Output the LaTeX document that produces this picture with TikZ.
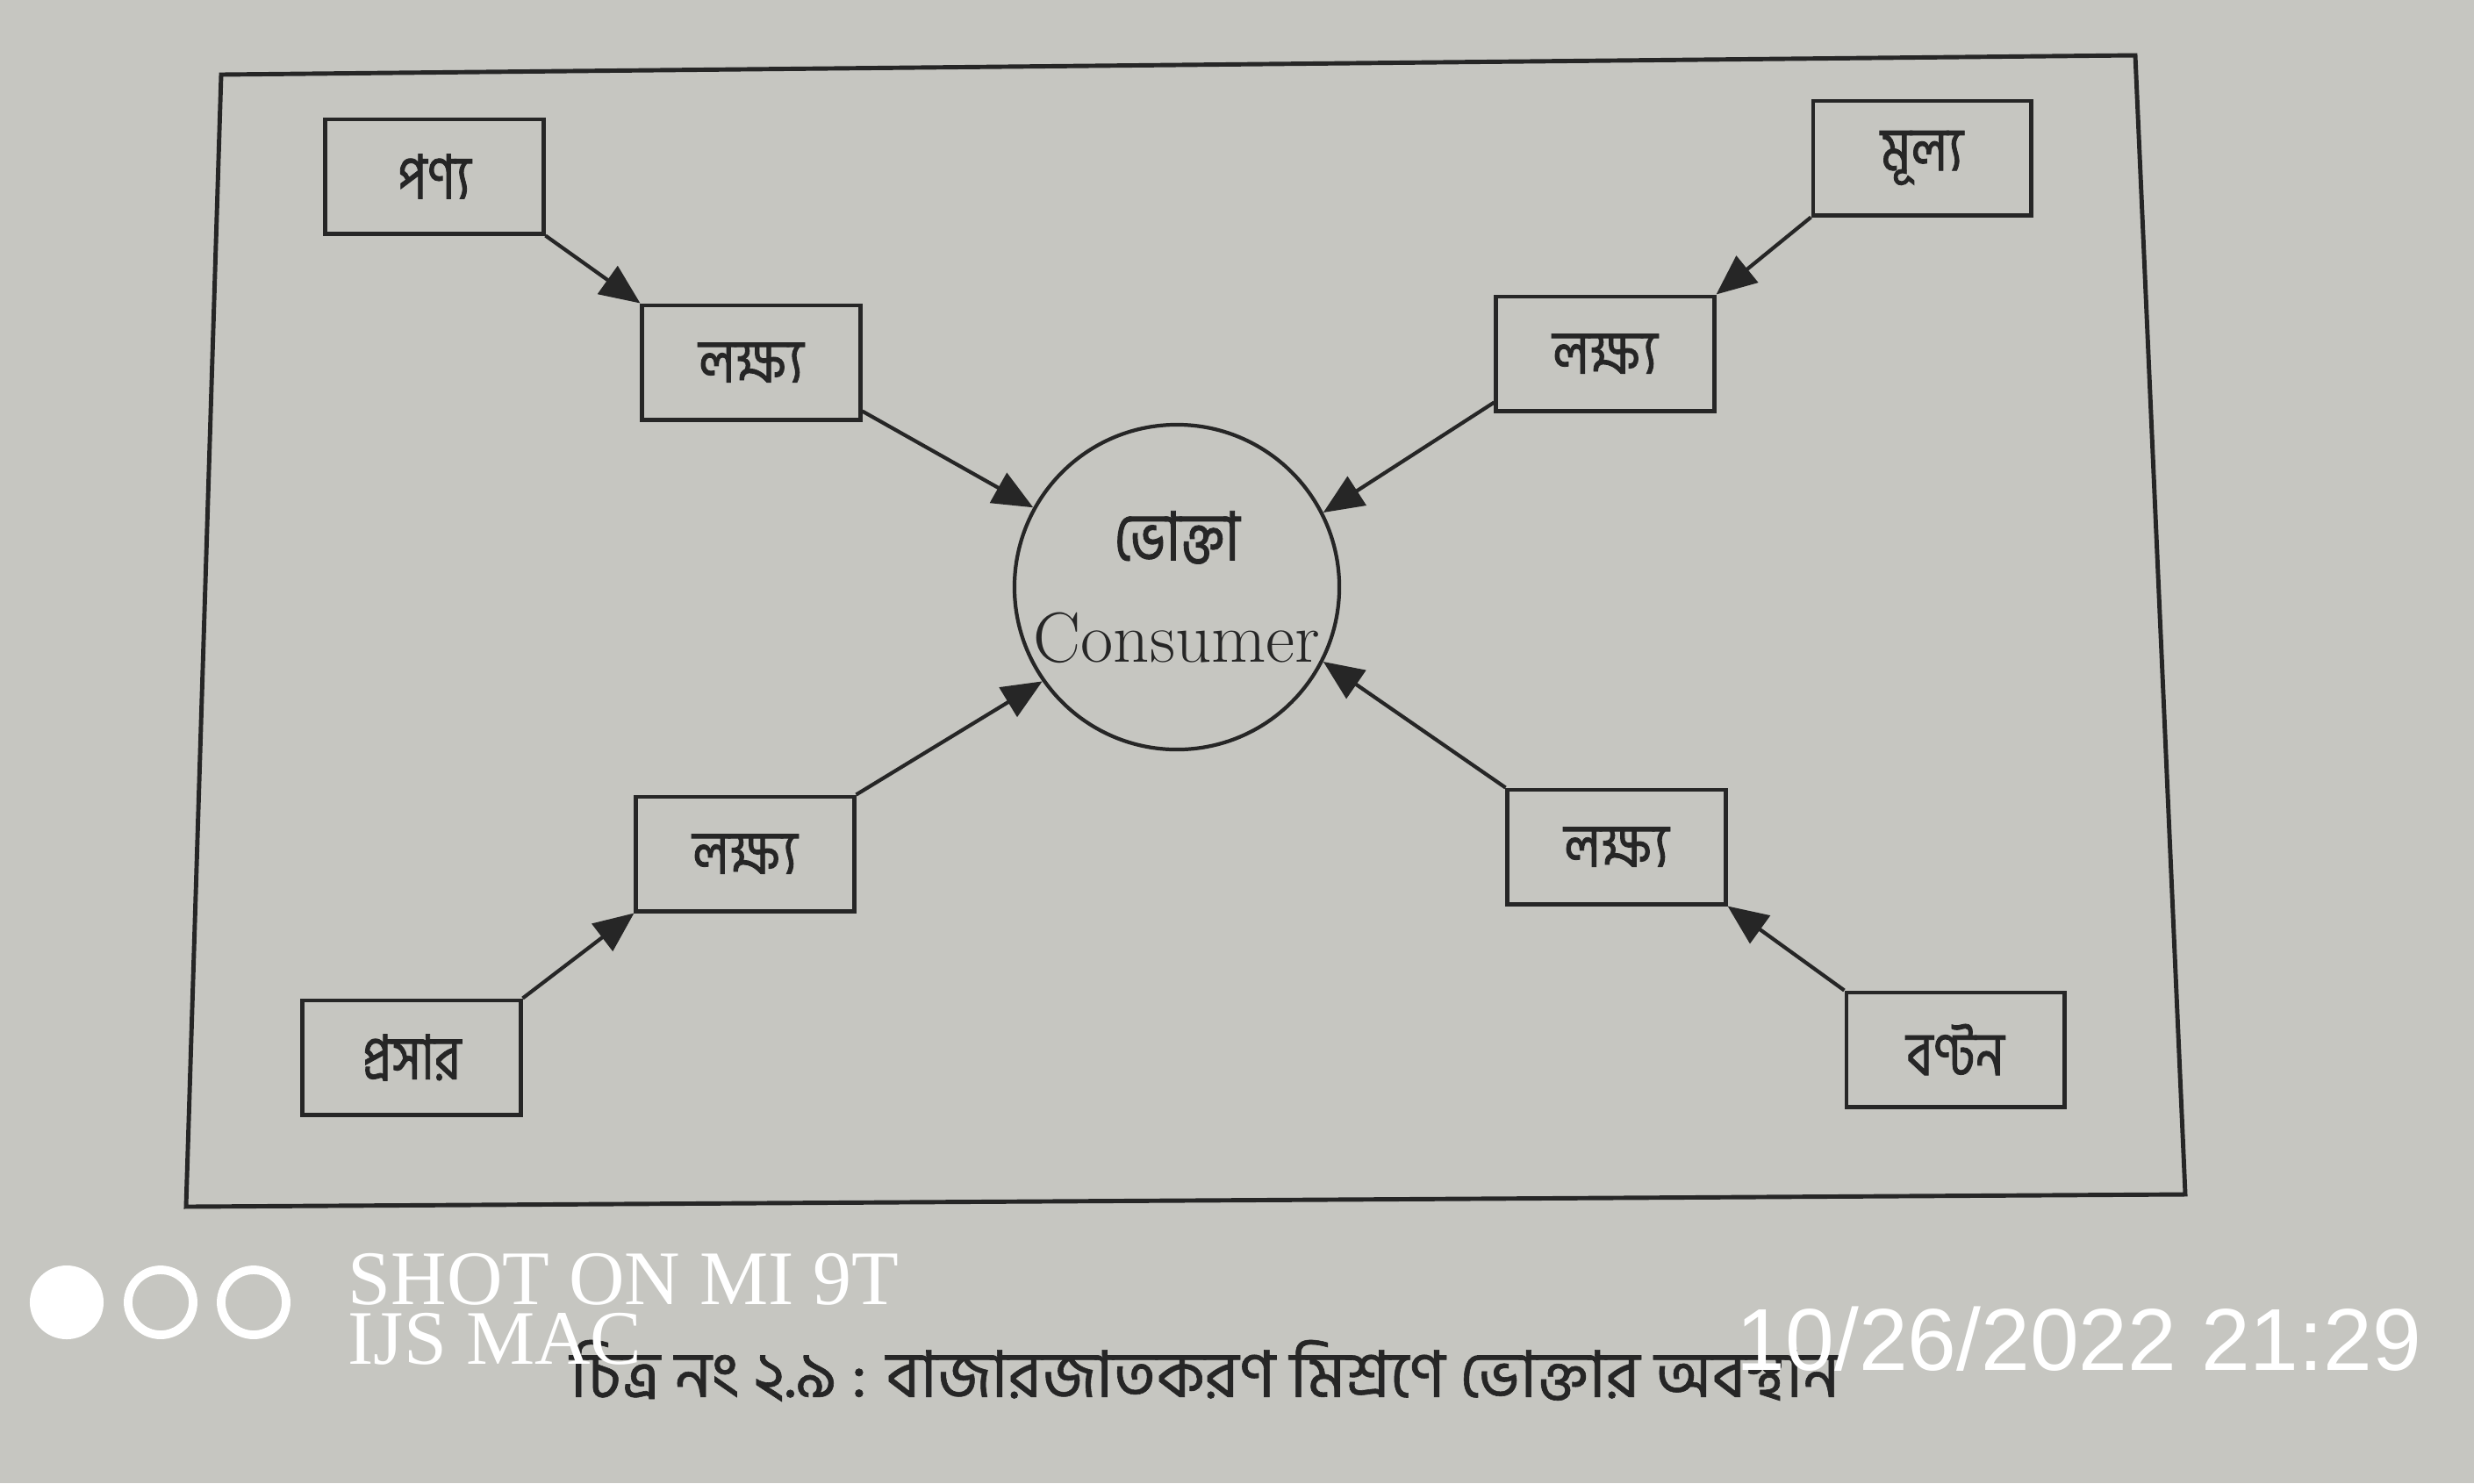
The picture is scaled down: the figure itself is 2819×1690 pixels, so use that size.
\documentclass[tikz,border=0pt]{standalone}
\usepackage{fontspec}
\newfontfamily\bn[Script=Bengali]{Hind Siliguri}
\newfontfamily\bnbox[Script=Bengali,FakeStretch=0.82,FakeBold=1.2]{Hind Siliguri}
\newfontfamily\bncap[Script=Bengali,FakeBold=0.8]{Hind Siliguri}
\newfontfamily\wmserif{Liberation Serif}
\newfontfamily\wmsans{Liberation Sans}
\usetikzlibrary{arrows.meta,calc}
\definecolor{paper}{RGB}{198,198,193}
\definecolor{ink}{RGB}{38,38,38}
\tikzset{
  box/.style={draw=ink,line width=1.4pt,minimum width=2.48cm,minimum height=1.3cm,inner sep=0pt,
    font=\bnbox\fontsize{20}{24}\selectfont,text=ink},
  consumer/.style={circle,draw=ink,line width=1.2pt,minimum size=3.6cm,inner sep=0pt,align=center,
    font=\fontsize{23}{29}\selectfont,text=ink},
  conn/.style={draw=ink,line width=1.2pt,-{Triangle[length=13pt,width=11pt]}},
  wm/.style={text=white,inner sep=0pt,anchor=west},
}
\begin{document}
\begin{tikzpicture}[x=0.01cm,y=-0.01cm]
\fill[paper] (0,0) rectangle (2819,1690);
\useasboundingbox (0,0) rectangle (2819,1690);
% outer frame (photographed, slightly skewed)
\draw[ink,line width=1.4pt] (252,85) -- (2433,63) -- (2490,1361) -- (212,1375) -- cycle;
% nodes
\node[box] (p)  at (495,201)  {পণ্য};
\node[box] (l1) at (856,413)  {লক্ষ্য};
\node[box] (m)  at (2190,180) {মূল্য};
\node[box] (l2) at (1829,403) {লক্ষ্য};
\node[consumer] (c) at (1341,669) {{\bnbox\fontsize{22}{26}\selectfont ভোক্তা}\\[4pt]Consumer};
\node[box] (l3) at (849,973)  {লক্ষ্য};
\node[box] (pr) at (469,1205) {প্রসার};
\node[box] (l4) at (1842,965) {লক্ষ্য};
\node[box] (b)  at (2228,1196) {বণ্টন};
% connectors
\draw[conn] (p.south east) -- (l1.north west);
\draw[conn] ($(l1.south east)+(0,-12)$) -- (c.151);
\draw[conn] (m.south west) -- (l2.north east);
\draw[conn] ($(l2.south west)+(0,-12)$) -- (c.27);
\draw[conn] (l3.north east) -- (c.215);
\draw[conn] (pr.north east) -- (l3.south west);
\draw[conn] (l4.north west) -- (c.333);
\draw[conn] (b.north west) -- (l4.south east);
% caption
\node[font=\bncap\fontsize{21}{25}\selectfont,text=ink,inner sep=0pt] (cap) at (1373,1562)
  {চিত্র নং ২.৯ : বাজারজাতকরণ মিশ্রণে ভোক্তার অবস্থান};
% camera watermark
\fill[white] (76,1484) circle (0.42cm);
\draw[white,line width=2.8pt] (183,1484) circle (0.37cm);
\draw[white,line width=2.8pt] (289,1484) circle (0.37cm);
\node[wm,font=\wmserif\fontsize{25}{28}\selectfont] (s1) at (396,1458) {SHOT ON MI 9T};
\node[wm,font=\wmserif\fontsize{25}{28}\selectfont] (s2) at (396,1526) {IJS MAC};
\node[wm,font=\wmsans\fontsize{28.5}{32}\selectfont] (dt) at (1978,1526) {10/26/2022 21:29};
\end{tikzpicture}
\end{document}
